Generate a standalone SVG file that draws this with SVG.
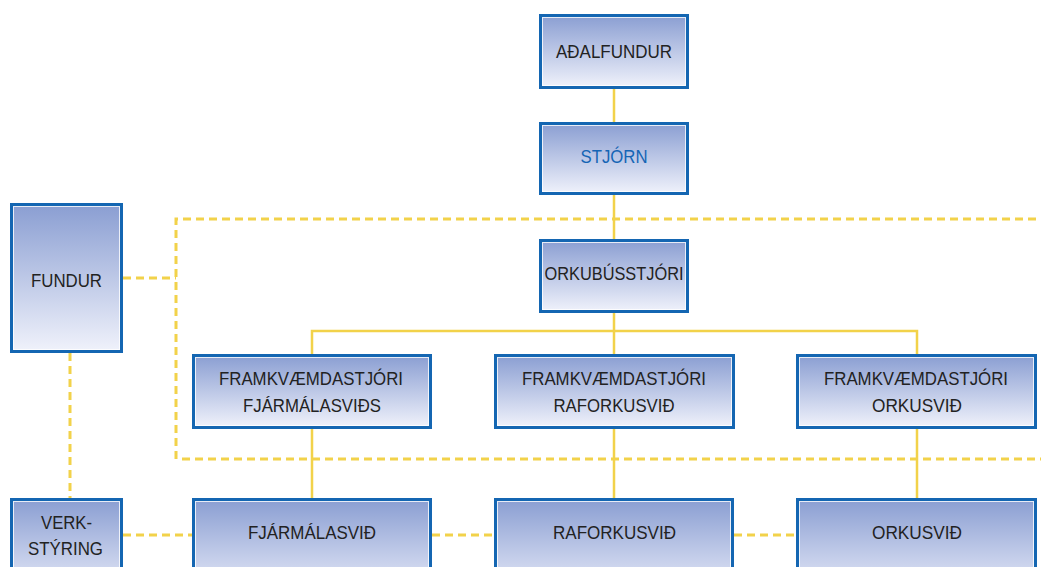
<svg xmlns="http://www.w3.org/2000/svg" width="1041" height="567" viewBox="0 0 1041 567">
<defs>
<linearGradient id="g" x1="0" y1="0" x2="0" y2="1">
<stop offset="0" stop-color="#8a9ed2"/>
<stop offset="1" stop-color="#f0f2fb"/>
</linearGradient>
<linearGradient id="gb" x1="0" y1="0" x2="0" y2="1">
<stop offset="0" stop-color="#8a9ed2"/>
<stop offset="1" stop-color="#e4e8f7"/>
</linearGradient>
<style>
.box{fill:url(#g);stroke:#1466b2;stroke-width:3}
.boxb{fill:url(#gb);stroke:#1466b2;stroke-width:3}
.in{fill:none;stroke:#ffffff;stroke-width:1;stroke-opacity:0.8}
.t{font-family:"Liberation Sans",Arial,sans-serif;font-size:19px;fill:#222222;text-anchor:middle}
.blue{fill:#1565b5}
.s{fill:none;stroke:#f2d24a;stroke-width:2.5}
.d{fill:none;stroke:#f2d24a;stroke-width:3;stroke-dasharray:8 5}
</style>
</defs>
<rect width="1041" height="567" fill="#ffffff"/>
<g id="connectors">
<path class="s" d="M614,89V122M614,195V239M614,313V355M312,355V331H917V355M312,429V498M614,429V498M917,429V498"/>
<path class="d" d="M123,278H176"/>
<path class="d" d="M176,459V219H1041"/>
<path class="d" d="M182,459H1041"/>
<path class="d" d="M70,353V498"/>
<path class="d" d="M123,535H192M432,535H494M734,535H796"/>
</g>
<g id="adalfundur">
<rect class="box" x="540.5" y="15.5" width="147" height="72"/>
<rect class="in" x="542.5" y="17.5" width="143" height="68"/>
<text class="t" x="614" y="58" textLength="116" lengthAdjust="spacingAndGlyphs">AÐALFUNDUR</text>
</g>
<g id="stjorn">
<rect class="box" x="540.5" y="123.5" width="147" height="70"/>
<rect class="in" x="542.5" y="125.5" width="143" height="66"/>
<text class="t blue" x="614" y="163" textLength="67" lengthAdjust="spacingAndGlyphs">STJÓRN</text>
</g>
<g id="orkubusstjori">
<rect class="box" x="540.5" y="240.5" width="147" height="71"/>
<rect class="in" x="542.5" y="242.5" width="143" height="67"/>
<text class="t" x="614" y="280" textLength="139" lengthAdjust="spacingAndGlyphs">ORKUBÚSSTJÓRI</text>
</g>
<g id="fundur">
<rect class="box" x="11.5" y="204.5" width="110" height="147"/>
<rect class="in" x="13.5" y="206.5" width="106" height="143"/>
<text class="t" x="66.5" y="287" textLength="71" lengthAdjust="spacingAndGlyphs">FUNDUR</text>
</g>
<g id="fk-fjarmal">
<rect class="box" x="193.5" y="355.5" width="237" height="72"/>
<rect class="in" x="195.5" y="357.5" width="233" height="68"/>
<text class="t" x="311" y="385" textLength="184" lengthAdjust="spacingAndGlyphs">FRAMKVÆMDASTJÓRI</text>
<text class="t" x="312" y="412" textLength="138" lengthAdjust="spacingAndGlyphs">FJÁRMÁLASVIÐS</text>
</g>
<g id="fk-raforku">
<rect class="box" x="495.5" y="355.5" width="238" height="72"/>
<rect class="in" x="497.5" y="357.5" width="234" height="68"/>
<text class="t" x="614" y="385" textLength="184" lengthAdjust="spacingAndGlyphs">FRAMKVÆMDASTJÓRI</text>
<text class="t" x="614" y="412" textLength="121" lengthAdjust="spacingAndGlyphs">RAFORKUSVIÐ</text>
</g>
<g id="fk-orku">
<rect class="box" x="797.5" y="355.5" width="238" height="72"/>
<rect class="in" x="799.5" y="357.5" width="234" height="68"/>
<text class="t" x="916" y="385" textLength="184" lengthAdjust="spacingAndGlyphs">FRAMKVÆMDASTJÓRI</text>
<text class="t" x="917" y="412" textLength="90" lengthAdjust="spacingAndGlyphs">ORKUSVIÐ</text>
</g>
<g id="verkstyring">
<rect class="boxb" x="11.5" y="499.5" width="110" height="90"/>
<rect class="in" x="13.5" y="501.5" width="106" height="86"/>
<text class="t" x="66.5" y="529" textLength="51" lengthAdjust="spacingAndGlyphs">VERK-</text>
<text class="t" x="65.5" y="555" textLength="75" lengthAdjust="spacingAndGlyphs">STÝRING</text>
</g>
<g id="fjarmalasvid">
<rect class="boxb" x="193.5" y="499.5" width="237" height="90"/>
<rect class="in" x="195.5" y="501.5" width="233" height="86"/>
<text class="t" x="312" y="539" textLength="128" lengthAdjust="spacingAndGlyphs">FJÁRMÁLASVIÐ</text>
</g>
<g id="raforkusvid">
<rect class="boxb" x="495.5" y="499.5" width="237" height="90"/>
<rect class="in" x="497.5" y="501.5" width="233" height="86"/>
<text class="t" x="614.5" y="539" textLength="123" lengthAdjust="spacingAndGlyphs">RAFORKUSVIÐ</text>
</g>
<g id="orkusvid">
<rect class="boxb" x="797.5" y="499.5" width="238" height="90"/>
<rect class="in" x="799.5" y="501.5" width="234" height="86"/>
<text class="t" x="917" y="539" textLength="90" lengthAdjust="spacingAndGlyphs">ORKUSVIÐ</text>
</g>
</svg>
